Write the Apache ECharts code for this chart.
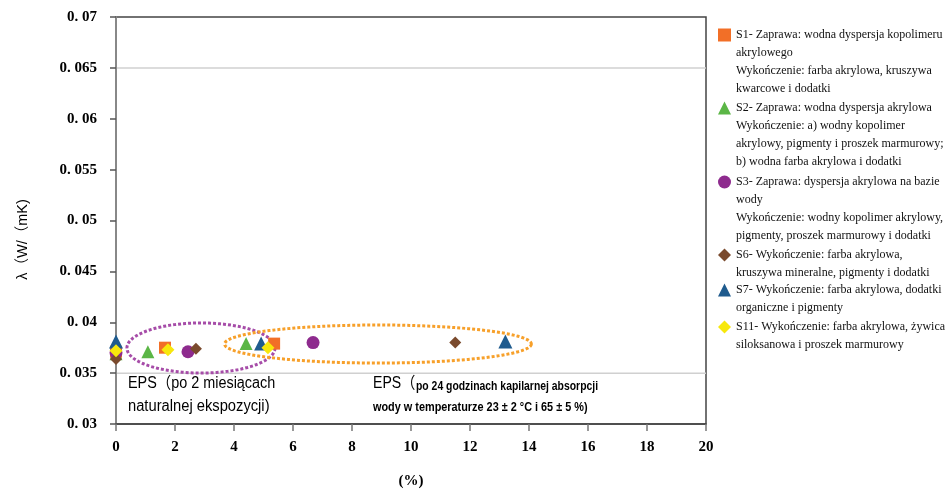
<!DOCTYPE html>
<html><head><meta charset="utf-8">
<script src="https://cdn.jsdelivr.net/npm/echarts@6/dist/echarts.min.js"></script>
<style>html,body{margin:0;padding:0;background:#fff}#c{width:946px;height:494px}</style>
</head><body><div id="c"></div>
<script>
// ---- data ----
const seriesNames = ['S1', 'S2', 'S3', 'S6', 'S7', 'S11'];
const legendTexts = [
  'S1- Zaprawa: wodna dyspersja kopolimeru\nakrylowego\nWykończenie: farba akrylowa, kruszywa\nkwarcowe i dodatki',
  'S2- Zaprawa: wodna dyspersja akrylowa\nWykończenie: a) wodny kopolimer\nakrylowy, pigmenty i proszek marmurowy;\nb) wodna farba akrylowa i dodatki',
  'S3- Zaprawa: dyspersja akrylowa na bazie\nwody\nWykończenie: wodny kopolimer akrylowy,\npigmenty, proszek marmurowy i dodatki',
  'S6- Wykończenie: farba akrylowa,\nkruszywa mineralne, pigmenty i dodatki',
  'S7- Wykończenie: farba akrylowa, dodatki\norganiczne i pigmenty',
  'S11- Wykończenie: farba akrylowa, żywica\nsiloksanowa i proszek marmurowy'
];
const s1 = [[0, 0.0371], [1.66, 0.0375], [5.36, 0.0379]];
const s2 = [[0, 0.0369], [1.08, 0.0371], [4.41, 0.0379]];
const s3 = [[0, 0.0370], [2.44, 0.0371], [6.68, 0.0380]];
const s6 = [[0, 0.0364], [2.71, 0.0374], [11.5, 0.0380]];
const s7 = [[0, 0.0381], [4.92, 0.0379], [13.2, 0.0381]];
const s11 = [[0, 0.0372], [1.76, 0.0373], [5.15, 0.0375]];
const yTickLabels = ['0. 03', '0. 035', '0. 04', '0. 045', '0. 05', '0. 055', '0. 06', '0. 065', '0. 07'];
const xTickLabels = ['0', '2', '4', '6', '8', '10', '12', '14', '16', '18', '20'];
const gridLineValues = [[0.065], [0.035]];
// ellipses: [centerX, centerY, radiusX, radiusY] in data units
const ellipseNatural = [[2.88, 0.03747, 2.51, 0.00246]];
const ellipseCapillary = [[8.88, 0.03786, 5.2, 0.00187]];

// ---- styling ----
const colors = ['#F26F27', '#5BB646', '#8E2B8E', '#7A4A2D', '#1F5B8E', '#F7E80C'];
const symbols = ['rect', 'triangle', 'circle', 'diamond', 'triangle', 'diamond'];
const symbolSizes = [12, 13, 13, 12, 14, 13];
const legendLineCenters = [35, 108, 182, 255, 290, 327];
const seriesData = [s1, s2, s3, s6, s7, s11];
const LH = 18;
const serifFont = 'Liberation Serif';
const narrow = "'Liberation Sans Narrow', 'Liberation Sans', 'Noto Sans CJK SC', sans-serif";

const legends = seriesNames.map((n, i) => ({
  data: [{ name: n, icon: symbols[i] }],
  orient: 'vertical',
  left: 718,
  top: legendLineCenters[i] - LH / 2,
  padding: 0,
  itemWidth: 13,
  itemHeight: 13,
  itemGap: 0,
  selectedMode: false,
  formatter: () => legendTexts[i].split('\n')[0],
  textStyle: { fontFamily: serifFont, fontSize: 12, color: '#111', lineHeight: LH }
}));

const legendRest = seriesNames.map((n, i) => ({
  type: 'text',
  left: 736,
  top: legendLineCenters[i] + LH / 2,
  style: {
    text: legendTexts[i].split('\n').slice(1).join('\n'),
    fontFamily: serifFont, fontSize: 12, fill: '#111', lineHeight: LH
  }
}));

function ellipseSeries(data, color, dash) {
  return {
    type: 'custom', silent: true, z: 1, data: data, encode: { x: 0, y: 1 },
    renderItem: function (params, api) {
      const c = api.coord([api.value(0), api.value(1)]);
      const sz = api.size([api.value(2), api.value(3)]);
      const pts = [];
      for (let k = 0; k < 120; k++) {
        const a = k / 120 * Math.PI * 2;
        pts.push([c[0] + sz[0] * Math.cos(a), c[1] + sz[1] * Math.sin(a)]);
      }
      return { type: 'polygon', shape: { points: pts },
        style: { fill: 'none', stroke: color, lineWidth: 3, lineDash: dash } };
    }
  };
}

const gridLineSeries = {
  type: 'custom', silent: true, z: 0, data: gridLineValues, encode: { y: 0 },
  renderItem: function (params, api) {
    const a = api.coord([0, api.value(0)]);
    const b = api.coord([20, api.value(0)]);
    return { type: 'line', shape: { x1: a[0], y1: a[1], x2: b[0], y2: b[1] },
      style: { stroke: '#d0d0d0', lineWidth: 1.5 } };
  }
};

const scatterSeries = seriesNames.map((n, i) => ({
  name: n, type: 'scatter', data: seriesData[i],
  symbol: symbols[i], symbolSize: symbolSizes[i],
  itemStyle: { color: colors[i], opacity: 1 }, z: 3
}));

const chart = echarts.init(document.getElementById('c'), null, { renderer: 'canvas' });
chart.setOption({
  animation: false,
  backgroundColor: '#fff',
  grid: { left: 116, right: 240, top: 17, bottom: 70, show: true, borderColor: '#444', borderWidth: 1.5 },
  legend: legends,
  xAxis: {
    type: 'value', min: 0, max: 20, interval: 2,
    name: '(%)', nameLocation: 'middle', nameGap: 50,
    nameTextStyle: { fontFamily: serifFont, fontWeight: 'bold', fontSize: 15, color: '#000' },
    axisLine: { show: true, lineStyle: { color: '#444', width: 1.5 } },
    axisTick: { show: true, length: 7, lineStyle: { color: '#777', width: 1.5 } },
    splitLine: { show: false },
    axisLabel: { margin: 16, fontFamily: serifFont, fontWeight: 'bold', fontSize: 15, color: '#000',
      formatter: v => xTickLabels[Math.round(v / 2)] }
  },
  yAxis: {
    type: 'value', min: 0.03, max: 0.07, interval: 0.005,
    name: 'λ（W/（mK)', nameLocation: 'middle', nameGap: 86, nameRotate: 90,
    nameTextStyle: { fontFamily: narrow, fontSize: 14.5, color: '#000', padding: [0, 38, 0, 0] },
    axisLine: { show: true, lineStyle: { color: '#888', width: 2 } },
    axisTick: { show: true, length: 6, lineStyle: { color: '#555', width: 1.5 } },
    splitLine: { show: false },
    axisLabel: { margin: 19, fontFamily: serifFont, fontWeight: 'bold', fontSize: 15, color: '#000',
      formatter: v => yTickLabels[Math.round((v - 0.03) / 0.005)] }
  },
  graphic: legendRest.concat([
    { type: 'text', left: 128, top: 376, scaleX: 0.9, style: { text: 'EPS（po 2 miesiącach', font: '16px ' + narrow, fill: '#000' } },
    { type: 'text', left: 128, top: 399, scaleX: 0.92, style: { text: 'naturalnej ekspozycji)', font: '16px ' + narrow, fill: '#000' } },
    { type: 'text', left: 373, top: 376, scaleX: 0.88, style: { text: 'EPS（', font: '16px ' + narrow, fill: '#000' } },
    { type: 'text', left: 416, top: 380, scaleX: 0.8, style: { text: 'po 24 godzinach kapilarnej absorpcji', font: 'bold 13px ' + narrow, fill: '#000' } },
    { type: 'text', left: 373, top: 401, scaleX: 0.87, style: { text: 'wody w temperaturze 23 ± 2 °C i 65 ± 5 %)', font: 'bold 12.5px ' + narrow, fill: '#000' } }
  ]),
  series: [
    gridLineSeries,
    ellipseSeries(ellipseNatural, '#A64CA8', [3, 2]),
    ellipseSeries(ellipseCapillary, '#F7A02A', [3, 2])
  ].concat(scatterSeries)
});
</script></body></html>
